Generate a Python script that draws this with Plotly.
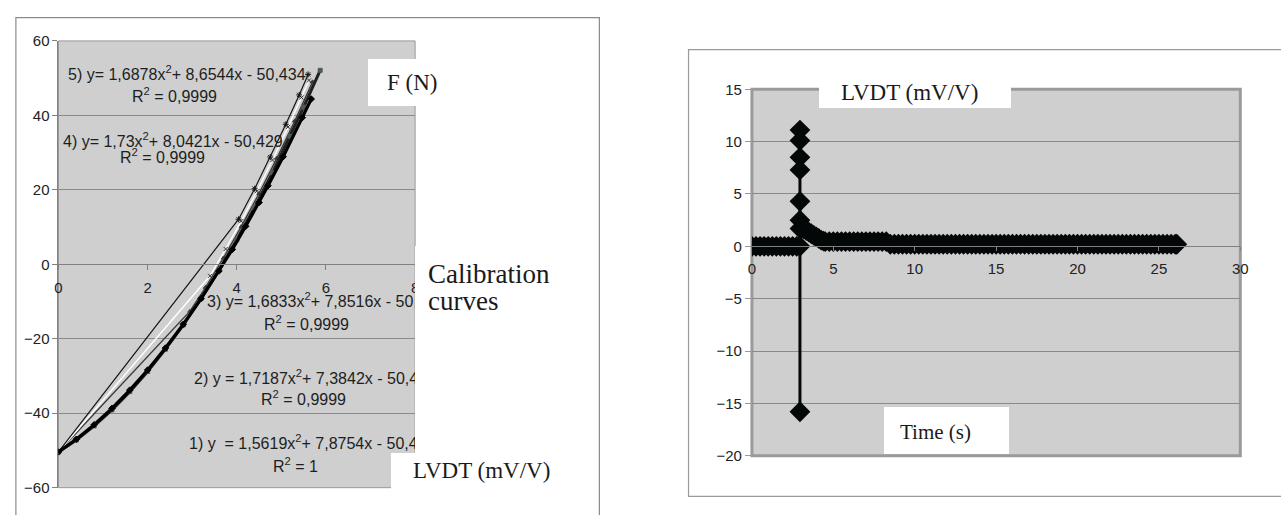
import plotly.graph_objects as go

W, H = 1281, 515

# ---------------- Left chart: calibration curves (F in N vs LVDT in mV/V) ----------------
s1_x = [0.0, 0.4, 0.8, 1.2, 1.6, 2.0, 2.4, 2.8, 3.2, 3.6, 3.9, 4.2, 4.5, 4.7, 5.04, 5.47, 5.67]
s1_y = [-50.4, -47.0, -43.1, -38.7, -33.8, -28.4, -22.5, -16.1, -9.2, -1.8, 4.0, 10.2, 16.6, 21.1, 28.9, 39.4, 44.4]

s2_x = [0.0, 0.4, 0.8, 1.2, 1.6, 2.0, 2.4, 2.8, 3.2, 3.6, 4.0, 4.4, 4.8, 5.2, 5.5, 5.87]
s2_y = [-50.4, -47.2, -43.4, -39.1, -34.2, -28.8, -22.8, -16.3, -9.2, -1.6, 6.6, 15.3, 24.6, 34.4, 42.2, 52.1]

s3_x = [0.0, 2.95, 3.3, 3.7, 4.1, 4.5, 4.9, 5.3, 5.7]
s3_y = [-50.4, -12.6, -6.2, 1.7, 10.1, 19.0, 28.5, 38.5, 49.0]

s4_x = [0.0, 3.4, 3.75, 4.1, 4.45, 4.8, 5.15, 5.45, 5.62]
s4_y = [-50.4, -3.1, 4.1, 11.6, 19.6, 28.0, 36.9, 44.8, 49.4]

s5_x = [0.0, 4.04, 4.4, 4.75, 5.1, 5.4, 5.6]
s5_y = [-50.4, 12.1, 20.3, 28.8, 37.6, 45.5, 51.0]

left_x_ticks = [0, 2, 4, 6, 8]
left_y_ticks = [-60, -40, -20, 0, 20, 40, 60]

eq_texts = [
    "5) y= 1,6878x<sup>2</sup>+ 8,6544x - 50,434",
    "4) y= 1,73x<sup>2</sup>+ 8,0421x - 50,429",
    "3) y= 1,6833x<sup>2</sup>+ 7,8516x - 50,434",
    "2) y = 1,7187x<sup>2</sup>+ 7,3842x - 50,434",
    "1) y&nbsp; = 1,5619x<sup>2</sup>+ 7,8754x - 50,434",
]
r2_texts = [
    "R<sup>2</sup> = 0,9999",
    "R<sup>2</sup> = 0,9999",
    "R<sup>2</sup> = 0,9999",
    "R<sup>2</sup> = 0,9999",
    "R<sup>2</sup> = 1",
]

# ---------------- Right chart: LVDT (mV/V) vs Time (s) ----------------
time_s = [
    0.0, 0.25, 0.5, 0.75, 1.0, 1.25, 1.5, 1.75, 2.0, 2.25, 2.5, 2.75,
    2.95, 2.95, 2.95, 2.95, 2.95, 2.95, 2.95, 2.95, 2.95,
    3.05, 3.2, 3.35, 3.5, 3.65, 3.8, 3.95, 4.1, 4.25, 4.4,
    4.5, 4.75, 5.0, 5.25, 5.5, 5.75, 6.0, 6.25, 6.5, 6.75, 7.0, 7.25, 7.5, 7.75, 8.0, 8.25,
    8.5, 8.75, 9.0, 9.25, 9.5, 9.75,
    10.0, 10.25, 10.5, 10.75, 11.0, 11.25, 11.5, 11.75,
    12.0, 12.25, 12.5, 12.75, 13.0, 13.25, 13.5, 13.75,
    14.0, 14.25, 14.5, 14.75, 15.0, 15.25, 15.5, 15.75,
    16.0, 16.25, 16.5, 16.75, 17.0, 17.25, 17.5, 17.75,
    18.0, 18.25, 18.5, 18.75, 19.0, 19.25, 19.5, 19.75,
    20.0, 20.25, 20.5, 20.75, 21.0, 21.25, 21.5, 21.75,
    22.0, 22.25, 22.5, 22.75, 23.0, 23.25, 23.5, 23.75,
    24.0, 24.25, 24.5, 24.75, 25.0, 25.25, 25.5, 25.75,
    26.0, 26.1,
]
lvdt = [
    0.0, 0.0, 0.0, 0.0, 0.0, 0.0, 0.0, 0.0, 0.0, 0.0, 0.0, 0.0,
    0.0, -15.8, 11.1, 10.1, 8.5, 7.3, 4.3, 2.5, 1.7,
    1.75, 1.65, 1.5, 1.35, 1.2, 1.05, 0.9, 0.75, 0.6, 0.5,
    0.45, 0.45, 0.45, 0.45, 0.45, 0.45, 0.45, 0.45, 0.45, 0.45, 0.45, 0.45, 0.45, 0.45, 0.45, 0.45,
    0.2, 0.2, 0.2, 0.2, 0.2, 0.2,
    0.2, 0.2, 0.2, 0.2, 0.2, 0.2, 0.2, 0.2,
    0.2, 0.2, 0.2, 0.2, 0.2, 0.2, 0.2, 0.2,
    0.2, 0.2, 0.2, 0.2, 0.2, 0.2, 0.2, 0.2,
    0.2, 0.2, 0.2, 0.2, 0.2, 0.2, 0.2, 0.2,
    0.2, 0.2, 0.2, 0.2, 0.2, 0.2, 0.2, 0.2,
    0.2, 0.2, 0.2, 0.2, 0.2, 0.2, 0.2, 0.2,
    0.2, 0.2, 0.2, 0.2, 0.2, 0.2, 0.2, 0.2,
    0.2, 0.2, 0.2, 0.2, 0.2, 0.2, 0.2, 0.2,
    0.2, 0.2,
]
right_x_ticks = [0, 5, 10, 15, 20, 25, 30]
right_y_ticks = [-20, -15, -10, -5, 0, 5, 10, 15]


def px(x):
    return x / W


def py(y):
    return 1 - y / H


SANS = "Liberation Sans"
SERIF = "Liberation Serif"
PLOT_BG = "#cfcfcf"

fig = go.Figure()

left_series = [
    (s3_x, s3_y, "#3a3a3a", 1.4, "triangle-up", 4),
    (s4_x, s4_y, "#ffffff", 1.4, "x-thin-open", 4),
    (s5_x, s5_y, "#151515", 1.2, "asterisk-open", 5),
    (s2_x, s2_y, "#202020", 3.0, "square", 4),
    (s1_x, s1_y, "#000000", 3.2, "diamond", 5),
]
for xs, ys, col, lw, sym, ms in left_series:
    mcol = "#4e5c5c" if sym == "square" else ("#333333" if col == "#ffffff" else col)
    fig.add_trace(go.Scatter(
        x=xs, y=ys, mode="lines+markers", xaxis="x", yaxis="y",
        line=dict(color=col, width=lw),
        marker=dict(symbol=sym, size=ms, color=mcol, line=dict(color=mcol, width=1)),
        showlegend=False, hoverinfo="skip",
    ))

fig.add_trace(go.Scatter(
    x=time_s, y=lvdt, mode="lines+markers", xaxis="x2", yaxis="y2",
    line=dict(color="#050808", width=3),
    marker=dict(symbol="diamond", size=16, color="#050808", line=dict(width=0)),
    showlegend=False, hoverinfo="skip",
))

tickfont = dict(family=SANS, size=15, color="#222222")

fig.update_layout(
    width=W, height=H,
    margin=dict(l=0, r=0, t=0, b=0),
    paper_bgcolor="white",
    plot_bgcolor=PLOT_BG,
    showlegend=False,
    xaxis=dict(
        domain=[px(55), px(415)], range=[0, 8], tickvals=left_x_ticks,
        anchor="free", position=py(264),
        showline=True, linecolor="#808080", linewidth=1,
        ticks="outside", ticklen=5, tickcolor="#808080",
        showgrid=False, zeroline=False, tickfont=tickfont,
        ticklabelstandoff=5,
    ),
    yaxis=dict(
        domain=[py(495), py(33)], range=[-60, 60], tickvals=left_y_ticks,
        anchor="x",
        showline=True, linecolor="#808080", linewidth=1,
        ticks="outside", ticklen=5, tickcolor="#808080",
        showgrid=True, gridcolor="#8a8a8a", gridwidth=1,
        zeroline=False, tickfont=tickfont,
    ),
    xaxis2=dict(
        domain=[px(755), px(1248)], range=[0, 30], tickvals=right_x_ticks,
        anchor="free", position=py(245),
        showline=True, linecolor="#808080", linewidth=1,
        ticks="outside", ticklen=4, tickcolor="#808080",
        showgrid=False, zeroline=False, tickfont=tickfont,
        ticklabelstandoff=5,
    ),
    yaxis2=dict(
        domain=[py(462), py(83)], range=[-20, 15], tickvals=right_y_ticks,
        anchor="x2",
        showline=False,
        ticks="outside", ticklen=6, tickcolor="#9a9a9a",
        showgrid=True, gridcolor="#8a8a8a", gridwidth=1,
        zeroline=False, tickfont=tickfont,
    ),
)

shapes = [
    # outer chart frames
    dict(type="rect", xref="paper", yref="paper", x0=px(12), y0=py(9), x1=px(601), y1=py(530),
         line=dict(color="#8a8a8a", width=1.2), layer="below"),
    dict(type="rect", xref="paper", yref="paper", x0=px(691), y0=py(42), x1=px(1300), y1=py(504),
         line=dict(color="#9a9a9a", width=1.2), layer="below"),
    # plot area borders
    dict(type="rect", xref="paper", yref="paper", x0=px(55), y0=py(33), x1=px(415), y1=py(495),
         line=dict(color="#9a9a9a", width=1), layer="below"),
    dict(type="rect", xref="paper", yref="paper", x0=px(755), y0=py(83), x1=px(1248), y1=py(462),
         line=dict(color="#9a9a9a", width=3), layer="below"),
]
fig.update_layout(shapes=shapes)

ann = []
eq_pos = [(63, 66), (58, 135), (203, 301), (190, 381), (185, 448)]
r2_pos = [(172, 89), (160, 152), (305, 325), (302, 402), (294, 472)]
eq_font = dict(family=SANS, size=16, color="#1e1e1e")
for t, (x, y) in zip(eq_texts, eq_pos):
    ann.append(dict(text=t, x=px(x), y=py(y), xref="paper", yref="paper", xanchor="left",
                    yanchor="middle", showarrow=False, font=eq_font))
for t, (x, y) in zip(r2_texts, r2_pos):
    ann.append(dict(text=t, x=px(x), y=py(y), xref="paper", yref="paper", xanchor="center",
                    yanchor="middle", showarrow=False, font=eq_font))

# white label boxes (drawn after equations so they cover them)
boxes = [(367, 52, 456, 99), (415, 245, 596, 459), (391, 459, 596, 515),
         (823, 66, 1015, 101), (888, 412, 1013, 459)]
for x0, y0, x1, y1 in boxes:
    ann.append(dict(text=".", x=px(x0), y=py(y0), xref="paper", yref="paper",
                    xanchor="left", yanchor="top", width=x1 - x0, height=y1 - y0,
                    bgcolor="white", borderpad=0, borderwidth=0, showarrow=False,
                    font=dict(color="white", size=2)))

labels = [
    ("F (N)", 412, 76, "center", 23),
    ("Calibration", 426, 274, "left", 27),
    ("curves", 426, 302, "left", 27),
    ("LVDT (mV/V)", 482, 477, "center", 23),
    ("LVDT (mV/V)", 914, 86, "center", 23),
    ("Time (s)", 940, 437, "center", 21),
]
for t, x, y, xa, sz in labels:
    ann.append(dict(text=t, x=px(x), y=py(y), xref="paper", yref="paper", xanchor=xa,
                    yanchor="middle", showarrow=False,
                    font=dict(family=SERIF, size=sz, color="#1a1a1a")))

fig.update_layout(annotations=ann)

fig.write_html("out.html")
